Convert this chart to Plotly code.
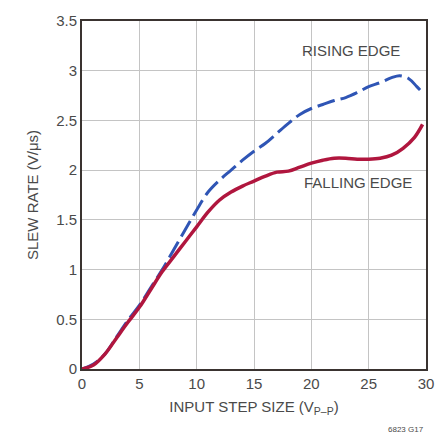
import plotly.graph_objects as go

# Input step size (V P-P)
step_rise = [0, 1, 2, 3, 4, 5, 6, 7, 8, 9, 10, 11, 12, 13, 14, 15, 16, 17, 18,
             19, 20, 21, 22, 23, 24, 25, 26, 27, 27.7, 28.5, 29.2, 29.7]
rise_rate = [0, 0.05, 0.15, 0.32, 0.49, 0.64, 0.82, 1.0, 1.2, 1.4, 1.6, 1.78,
             1.9, 2.0, 2.1, 2.19, 2.27, 2.37, 2.47, 2.56, 2.62, 2.66, 2.7, 2.73,
             2.78, 2.84, 2.88, 2.93, 2.95, 2.92, 2.84, 2.78]

step_fall = [0, 1, 2, 3, 4, 5, 6, 7, 8, 9, 10, 11, 12, 13, 14, 15, 16, 17, 18,
             19, 20, 21, 22, 23, 24, 25, 26, 27, 28, 29, 29.7]
fall_rate = [0, 0.04, 0.15, 0.31, 0.47, 0.62, 0.8, 0.98, 1.13, 1.28, 1.43,
             1.58, 1.7, 1.78, 1.84, 1.89, 1.94, 1.98, 1.99, 2.03, 2.07, 2.1,
             2.12, 2.12, 2.11, 2.11, 2.12, 2.15, 2.22, 2.33, 2.46]

x_ticks = [0, 5, 10, 15, 20, 25, 30]
y_ticks = [0, 0.5, 1, 1.5, 2, 2.5, 3, 3.5]
y_tick_text = ["0", "0.5", "1", "1.5", "2", "2.5", "3", "3.5"]

FONT = "Liberation Sans Narrow, Arial Narrow, Liberation Sans, Arial, sans-serif"
TEXT = "#4a4a4a"

fig = go.Figure()
fig.add_trace(go.Scatter(
    x=step_rise, y=rise_rate, mode="lines",
    line=dict(color="#2f55b5", width=3, dash="18px,6px", shape="spline"),
    hoverinfo="skip"))
fig.add_trace(go.Scatter(
    x=step_fall, y=fall_rate, mode="lines",
    line=dict(color="#b0163e", width=3.5, shape="spline"),
    hoverinfo="skip"))

fig.add_annotation(x=23.5, y=3.2, text="RISING EDGE", showarrow=False,
                   font=dict(family=FONT, size=15, color=TEXT))
fig.add_annotation(x=24.1, y=1.88, text="FALLING EDGE", showarrow=False,
                   font=dict(family=FONT, size=15, color=TEXT))
fig.add_annotation(xref="paper", yref="paper", x=1.0, y=-0.174,
                   xanchor="right", yanchor="middle", text="6823 G17",
                   showarrow=False, font=dict(family=FONT, size=8, color=TEXT))

fig.update_layout(
    width=446, height=438,
    margin=dict(l=82, r=13, t=18, b=69),
    paper_bgcolor="white", plot_bgcolor="white",
    showlegend=False,
    font=dict(family=FONT, size=15, color=TEXT),
    xaxis=dict(
        range=[0, 30], tickvals=x_ticks, showgrid=True,
        gridcolor="#c4c4c4", gridwidth=1, zeroline=False,
        showline=True, linecolor="#3a3330", linewidth=2, mirror=True,
        ticks="", ticklen=0,
        title=dict(text="INPUT STEP SIZE (V<sub>P–P</sub>)",
                   font=dict(family=FONT, size=15, color=TEXT), standoff=10)),
    yaxis=dict(
        range=[0, 3.5], tickvals=y_ticks, ticktext=y_tick_text, showgrid=True,
        gridcolor="#c4c4c4", gridwidth=1, zeroline=False,
        showline=True, linecolor="#3a3330", linewidth=2, mirror=True,
        ticks="", ticklen=0,
        title=dict(text="SLEW RATE (V/μs)",
                   font=dict(family=FONT, size=15, color=TEXT), standoff=14)),
)

fig.write_html("out.html")
